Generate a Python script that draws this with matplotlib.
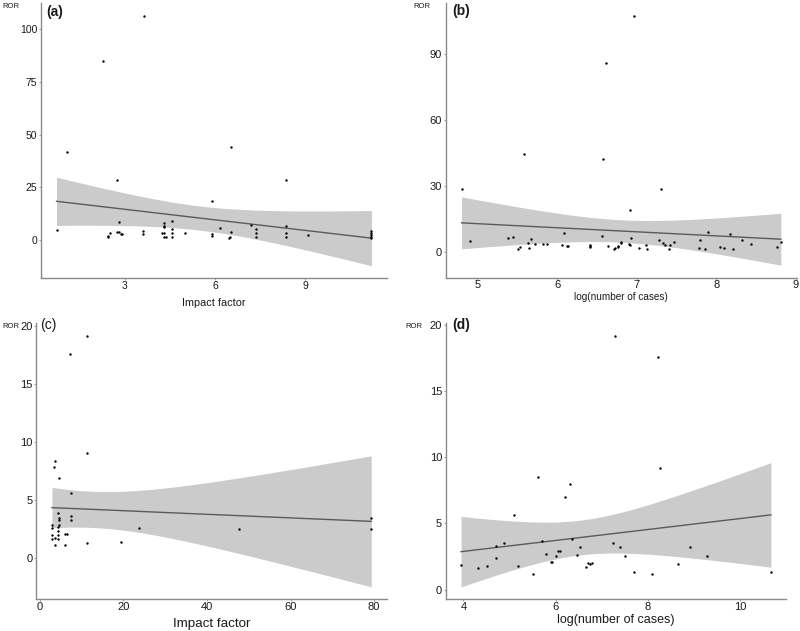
import numpy as np
import matplotlib
matplotlib.use("Agg")
import matplotlib.pyplot as plt

plt.rcParams["font.family"] = ["Liberation Sans", "DejaVu Sans"]

# (a) ROR vs impact factor
a_x = [3.63, 2.28, 1.08, 2.74, 6.53, 8.36, 5.91, 0.73, 2.43, 2.43, 2.50, 2.73, 2.80,
       2.86, 2.91, 2.80, 3.62, 3.62, 4.30, 4.30, 4.30, 4.24, 4.32, 4.30, 4.37, 4.56,
       4.56, 4.56, 4.56, 4.99, 5.91, 5.91, 6.16, 6.55, 6.50, 6.47, 7.19, 7.36, 7.36,
       7.36, 8.36, 8.36, 8.36, 9.11, 11.21, 11.21, 11.21, 11.21, 11.21]
a_y = [106.5, 85.2, 42.0, 28.5, 44.3, 28.5, 18.7, 4.7, 1.6, 2.0, 3.6, 3.9, 3.9,
       3.1, 3.1, 8.4, 4.4, 3.1, 7.9, 6.9, 6.0, 3.5, 3.5, 1.6, 1.6, 9.1,
       5.5, 3.5, 1.6, 3.5, 3.1, 1.9, 5.8, 3.9, 1.6, 1.1, 7.1, 5.2, 3.5,
       1.6, 6.5, 3.5, 1.6, 2.5, 4.4, 3.5, 2.6, 1.6, 1.1]

# (b) ROR vs log(number of cases)
b_x = [6.96, 6.62, 5.59, 6.58, 4.80, 7.31, 6.92, 4.90, 5.38, 5.45, 5.51, 5.54, 5.64,
       5.67, 5.65, 5.72, 5.82, 5.87, 6.09, 6.06, 6.13, 6.14, 6.41, 6.41, 6.41, 6.57,
       6.64, 6.71, 6.73, 6.77, 6.77, 6.80, 6.80, 6.90, 6.92, 6.93, 7.03, 7.12, 7.13,
       7.28, 7.33, 7.36, 7.40, 7.42, 7.47, 7.79, 7.78, 7.86, 7.89, 8.04, 8.10, 8.17,
       8.21, 8.32, 8.44, 8.76, 8.81]
b_y = [107.5, 86.1, 44.6, 42.4, 28.7, 28.7, 19.0, 4.8, 6.5, 6.9, 1.5, 2.3, 3.9,
       5.7, 1.7, 3.5, 3.5, 3.5, 8.4, 3.2, 2.7, 2.7, 2.7, 3.2, 2.3, 7.1,
       2.7, 1.2, 1.7, 2.0, 2.7, 4.7, 3.9, 3.5, 3.0, 6.2, 1.7, 3.0, 1.1,
       5.4, 3.9, 3.3, 1.5, 3.3, 4.5, 5.6, 1.7, 1.5, 9.2, 2.4, 1.8, 8.3,
       1.5, 5.4, 3.6, 2.1, 4.4]

# (c) ROR vs impact factor
c_x = [11.35, 7.27, 11.35, 3.68, 3.28, 4.48, 7.35, 4.40, 4.56, 4.56, 4.56, 4.40, 4.40,
       7.43, 7.43, 2.88, 2.88, 2.88, 2.88, 3.60, 4.40, 4.40, 6.00, 6.55, 3.68, 6.08,
       11.35, 19.4, 23.7, 47.6, 79.3, 79.3]
c_y = [19.2, 17.6, 9.1, 8.4, 7.9, 6.9, 5.6, 3.9, 3.5, 3.3, 2.9, 2.7, 2.4,
       3.7, 3.3, 2.9, 2.6, 2.0, 1.7, 1.8, 2.0, 1.7, 2.1, 2.1, 1.2, 1.2,
       1.3, 1.4, 2.6, 2.5, 3.5, 2.5]

# (d) ROR vs log(number of cases)
d_x = [3.95, 4.32, 4.52, 4.70, 4.71, 4.88, 5.10, 5.18, 5.52, 5.61, 5.71, 5.80, 6.00,
       5.90, 5.92, 6.20, 6.06, 6.09, 6.32, 6.36, 6.46, 6.52, 6.66, 6.70, 6.75, 6.80,
       7.29, 7.24, 7.40, 7.50, 7.69, 8.22, 8.26, 8.08, 8.66, 8.92, 9.28, 10.67]
d_y = [1.85, 1.6, 1.8, 3.3, 2.4, 3.5, 5.6, 1.8, 1.2, 8.5, 3.7, 2.7, 2.5,
       2.1, 2.1, 7.0, 2.9, 2.9, 8.0, 3.85, 2.6, 3.2, 1.7, 2.0, 1.9, 2.0,
       19.2, 3.5, 3.2, 2.5, 1.3, 17.6, 9.2, 1.2, 1.9, 3.2, 2.5, 1.3]

panels = [
    ("(a)", a_x, a_y, [3, 6, 9], [0, 25, 50, 75, 100], "Impact factor", "bold"),
    ("(b)", b_x, b_y, [5, 6, 7, 8, 9], [0, 30, 60, 90], "log(number of cases)", "bold"),
    ("(c)", c_x, c_y, [0, 20, 40, 60, 80], [0, 5, 10, 15, 20], "Impact factor", "normal"),
    ("(d)", d_x, d_y, [4, 6, 8, 10], [0, 5, 10, 15, 20], "log(number of cases)", "bold"),
]

# axes boxes in figure fractions (left, bottom, width, height)
boxes = [
    (0.051, 0.559, 0.433, 0.436),
    (0.557, 0.560, 0.439, 0.435),
    (0.045, 0.050, 0.439, 0.438),
    (0.557, 0.050, 0.426, 0.438),
]
tick_size = [7.5, 8, 8, 8]
xlabel_size = [7.8, 7.2, 9.6, 9.0]
xlabel_y = [303, 296.5, 624, 619.5]
ror_pos = [(2, 6), (413, 6), (2, 326), (405, 326)]
tag_pos = [(46, 12), (452, 11), (40, 325), (452, 325)]


def t_quantile(df, p=0.975):
    # Cornish-Fisher expansion, good enough for df > 20
    z = 1.959964
    return z + (z**3 + z) / (4 * df) + (5 * z**5 + 16 * z**3 + 3 * z) / (96 * df**2)


def lm_band(x, y, n_grid=80):
    x = np.asarray(x, float)
    y = np.asarray(y, float)
    n = len(x)
    slope, icpt = np.polyfit(x, y, 1)
    resid = y - (icpt + slope * x)
    s = np.sqrt(np.sum(resid**2) / (n - 2))
    xs = np.linspace(x.min(), x.max(), n_grid)
    fit = icpt + slope * xs
    se = s * np.sqrt(1 / n + (xs - x.mean())**2 / np.sum((x - x.mean())**2))
    t = t_quantile(n - 2)
    return xs, fit, fit - t * se, fit + t * se


W, H = 800, 631
fig = plt.figure(figsize=(W / 100, H / 100), dpi=100)

for i, (tag, x, y, xt, yt, xl, tw) in enumerate(panels):
    box = boxes[i]
    ax = fig.add_axes(box)
    xs, fit, lo, hi = lm_band(x, y)
    ax.fill_between(xs, lo, hi, color="#cbcbcb", lw=0, zorder=1)
    ax.plot(xs, fit, color="#5a5a5a", lw=1.0, zorder=2)
    ax.scatter(x, y, s=3, color="black", lw=0, zorder=3)

    ax.set_xticks(xt)
    ax.set_yticks(yt)
    ax.tick_params(length=1.5, width=0.6, color="#888888", labelsize=tick_size[i],
                   labelcolor="#1a1a1a", pad=1.0)
    ax.tick_params(axis="x", pad=0.5)
    for side in ["top", "right"]:
        ax.spines[side].set_visible(False)
    for side in ["left", "bottom"]:
        ax.spines[side].set_color("#8a8a8a")
        ax.spines[side].set_linewidth(1.0)

    cx = box[0] + box[2] / 2
    fig.text(cx, 1 - xlabel_y[i] / H, xl, ha="center", va="center",
             fontsize=xlabel_size[i], color="#1a1a1a")
    rp = ror_pos[i]
    fig.text(rp[0] / W, 1 - rp[1] / H, "ROR", ha="left", va="center",
             fontsize=5.5, color="#1a1a1a")
    tp = tag_pos[i]
    fig.text(tp[0] / W, 1 - tp[1] / H, tag, ha="left", va="center",
             fontsize=10, fontweight=tw, color="#1a1a1a")

fig.savefig("out.png", dpi=100)
